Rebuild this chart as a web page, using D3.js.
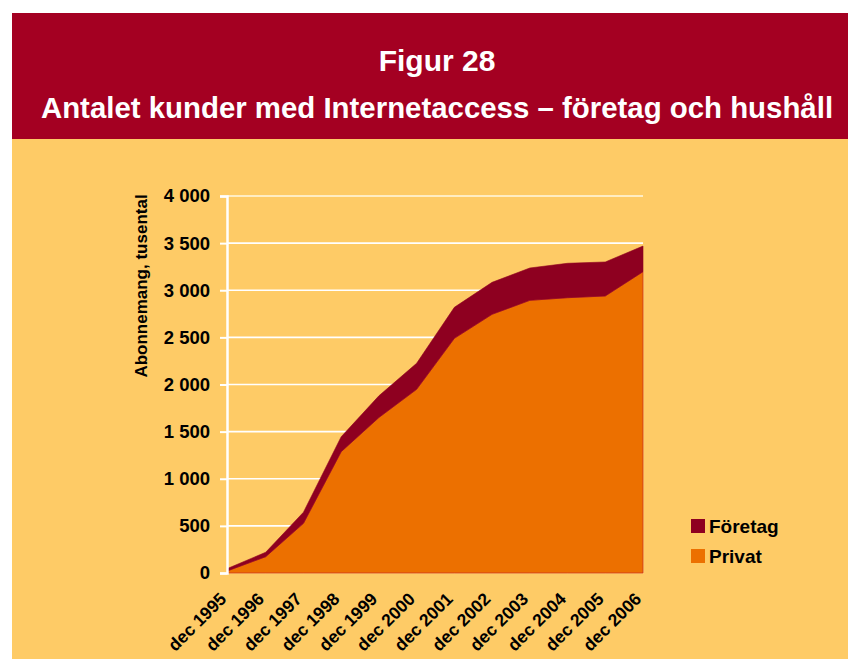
<!DOCTYPE html>
<html><head><meta charset="utf-8">
<script src="https://cdn.jsdelivr.net/npm/d3@7"></script>
<style>body{margin:0;background:#fff;}svg{display:block;font-family:"Liberation Sans",Arial,sans-serif;}</style>
</head><body>
<svg id="c" width="848" height="659"></svg>
<script>
const categories = ["dec 1995","dec 1996","dec 1997","dec 1998","dec 1999","dec 2000","dec 2001","dec 2002","dec 2003","dec 2004","dec 2005","dec 2006"];
const privat  = [25, 173, 527, 1287, 1650, 1949, 2490, 2745, 2893, 2921, 2939, 3197];
const foretag = [25, 47, 118, 158, 230, 276, 329, 339, 343, 365, 361, 272];
const yTicks = [0, 500, 1000, 1500, 2000, 2500, 3000, 3500, 4000];
const seriesNames = ["Privat", "Företag"];
const colors = {"Privat":"#EC7000", "Företag":"#8E0020"};

const svg = d3.select("#c");
// background panels
svg.append("rect").attr("x",12).attr("y",13).attr("width",836).attr("height",126).attr("fill","#A40022");
svg.append("rect").attr("x",12).attr("y",139).attr("width",836).attr("height",520).attr("fill","#FECB66");
svg.append("text").attr("x",437).attr("y",71).attr("text-anchor","middle").attr("fill","#fff")
  .attr("font-size",30).attr("font-weight","bold").text("Figur 28");
svg.append("text").attr("x",437).attr("y",118).attr("text-anchor","middle").attr("fill","#fff")
  .attr("font-size",29.4).attr("font-weight","bold").text("Antalet kunder med Internetaccess – företag och hushåll");

const x = d3.scalePoint().domain(categories).range([228, 643]);
const y = d3.scaleLinear().domain([0, 4000]).range([573, 196]);

// gridlines
svg.append("g").selectAll("line").data(yTicks.filter(d => d > 0)).join("line")
  .attr("x1",227).attr("x2",643).attr("y1",d=>y(d)).attr("y2",d=>y(d))
  .attr("stroke", d => d === 4000 ? "#FFEDC2" : "#fff").attr("stroke-width", d => d === 4000 ? 2 : 1.6);

// stacked areas
const rows = categories.map((c,i) => ({cat:c, "Privat":privat[i], "Företag":foretag[i]}));
const stack = d3.stack().keys(seriesNames)(rows);
const area = d3.area().x(d => x(d.data.cat)).y0(d => y(d[0])).y1(d => y(d[1]));
svg.append("g").selectAll("path").data(stack).join("path")
  .attr("d", area).attr("fill", d => colors[d.key])
  .attr("stroke", d => d.key === "Privat" ? "#C8202A" : "#8E0020").attr("stroke-width", 0.6);

// y axis
const yAxis = d3.axisLeft(y).tickValues(yTicks).tickSize(7).tickPadding(10)
  .tickFormat(d => d3.format(",")(d).replace(/,/g, " "));
const ga = svg.append("g").attr("transform","translate(227,0)").call(yAxis);
ga.select(".domain").attr("stroke","#fff").attr("stroke-width",2.5);
ga.selectAll(".tick line").attr("stroke","#fff").attr("stroke-width",2);
ga.selectAll(".tick text").attr("fill","#000").attr("font-size",18.5).attr("font-weight","bold")
  .attr("font-family","Liberation Sans, Arial, sans-serif");

svg.append("text").attr("transform","translate(147,286) rotate(-90)").attr("text-anchor","middle")
  .attr("font-size",17).attr("font-weight","bold").attr("fill","#000").text("Abonnemang, tusental");

// x axis labels
const xAxis = d3.axisBottom(x).tickSize(0).tickPadding(0);
const gx = svg.append("g").attr("transform","translate(0,573)").call(xAxis);
gx.select(".domain").remove();
gx.selectAll(".tick text").attr("fill","#000").attr("font-size",17.5).attr("font-weight","bold")
  .attr("font-family","Liberation Sans, Arial, sans-serif")
  .attr("text-anchor","end").attr("dy",null).attr("y",null)
  .attr("transform","translate(-1,27) rotate(-45)");

// legend
const legendItems = ["Företag","Privat"];
const lg = svg.append("g").selectAll("g").data(legendItems).join("g")
  .attr("transform",(d,i)=>`translate(691,${519 + i*30})`);
lg.append("rect").attr("width",14).attr("height",14).attr("fill",d=>colors[d]);
lg.append("text").attr("x",18).attr("y",14).attr("font-size",19).attr("font-weight","bold")
  .attr("fill","#000").text(d=>d);
</script>
</body></html>
